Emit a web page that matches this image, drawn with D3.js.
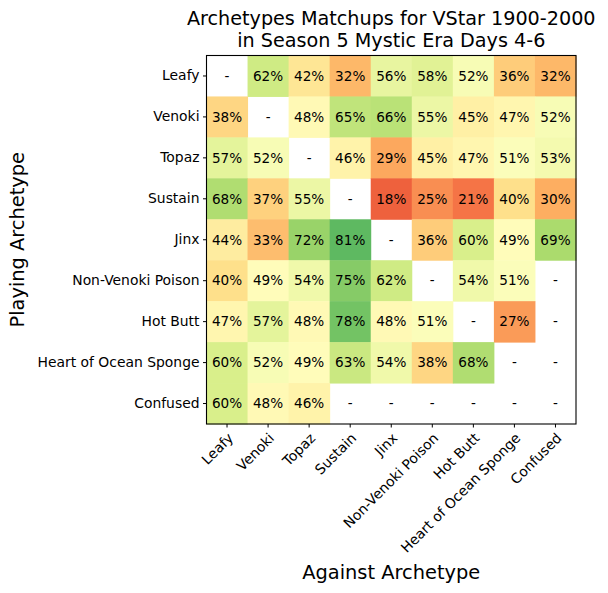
<!DOCTYPE html>
<html lang="en">
<head>
<meta charset="UTF-8">
<title>Archetypes Matchups</title>
<script src="https://d3js.org/d3.v7.min.js"></script>
<style>
    body { margin: 0; background: #fff; font-family: "DejaVu Sans", sans-serif; }
    svg text { fill: #000; }
</style>
</head>
<body>
<div id="chart"></div>
<script>
    // Archetypes (rows = playing, columns = against)
    const playing = ["Leafy", "Venoki", "Topaz", "Sustain", "Jinx", "Non-Venoki Poison", "Hot Butt", "Heart of Ocean Sponge", "Confused"];
    const against = ["Leafy", "Venoki", "Topaz", "Sustain", "Jinx", "Non-Venoki Poison", "Hot Butt", "Heart of Ocean Sponge", "Confused"];

    // win rates in %, null = no data ("-")
    const leafy   = [null, 62, 42, 32, 56, 58, 52, 36, 32];
    const venoki  = [38, null, 48, 65, 66, 55, 45, 47, 52];
    const topaz   = [57, 52, null, 46, 29, 45, 47, 51, 53];
    const sustain = [68, 37, 55, null, 18, 25, 21, 40, 30];
    const jinx    = [44, 33, 72, 81, null, 36, 60, 49, 69];
    const poison  = [40, 49, 54, 75, 62, null, 54, 51, null];
    const hotButt = [47, 57, 48, 78, 48, 51, null, 27, null];
    const sponge  = [60, 52, 49, 63, 54, 38, 68, null, null];
    const confused = [60, 48, 46, null, null, null, null, null, null];

    const rows = [leafy, venoki, topaz, sustain, jinx, poison, hotButt, sponge, confused];

    const cells = [];
    rows.forEach((r, i) => r.forEach((v, j) => cells.push({row: playing[i], col: against[j], value: v})));

    const W = 608, H = 593;
    const margin = {top: 55.5, left: 206.5, right: 32, bottom: 169};
    const width = W - margin.left - margin.right,
          height = H - margin.top - margin.bottom;

    const svg = d3.select("#chart").append("svg")
        .attr("width", W).attr("height", H);

    const g = svg.append("g").attr("transform", `translate(${margin.left},${margin.top})`);

    const x = d3.scaleBand().domain(against).range([0, width]);
    const y = d3.scaleBand().domain(playing).range([0, height]);

    // RdYlGn, 0..100
    const rdylgn = ["#a50026", "#d73027", "#f46d43", "#fdae61", "#fee08b", "#ffffbf",
                    "#d9ef8b", "#a6d96a", "#66bd63", "#1a9850", "#006837"];
    const color = d3.scaleLinear()
        .domain(d3.range(11).map(i => i * 10))
        .range(rdylgn)
        .interpolate(d3.interpolateRgb);

    g.selectAll("rect.cell")
        .data(cells.filter(d => d.value !== null))
        .join("rect")
        .attr("class", "cell")
        .attr("x", d => x(d.col))
        .attr("y", d => y(d.row))
        .attr("width", x.bandwidth() + 0.5)
        .attr("height", y.bandwidth() + 0.5)
        .attr("fill", d => color(d.value));

    g.selectAll("text.val")
        .data(cells)
        .join("text")
        .attr("class", "val")
        .attr("x", d => x(d.col) + x.bandwidth() / 2)
        .attr("y", d => y(d.row) + y.bandwidth() / 2)
        .attr("text-anchor", "middle")
        .attr("dy", "0.35em")
        .style("font-size", "13.6px")
        .text(d => d.value === null ? "-" : d.value + "%");

    // frame
    g.append("rect")
        .attr("width", width).attr("height", height)
        .attr("fill", "none").attr("stroke", "#000").attr("stroke-width", 1.1);

    // y axis
    const yAxis = g.append("g")
        .call(d3.axisLeft(y).tickSize(3.5).tickPadding(3.5));
    yAxis.select(".domain").remove();
    yAxis.selectAll("text").style("font-size", "13.9px").style("font-family", "DejaVu Sans");
    yAxis.selectAll("line").attr("stroke", "#000");

    // x axis
    const xAxis = g.append("g")
        .attr("transform", `translate(0,${height})`)
        .call(d3.axisBottom(x).tickSize(3.5).tickPadding(3.5));
    xAxis.select(".domain").remove();
    xAxis.selectAll("line").attr("stroke", "#000");
    xAxis.selectAll("text")
        .style("font-size", "13.9px").style("font-family", "DejaVu Sans")
        .attr("text-anchor", "end")
        .attr("x", 0).attr("y", 0).attr("dy", null)
        .attr("transform", "translate(7,15) rotate(-45)");

    // title
    const title = svg.append("text")
        .attr("x", margin.left + width / 2)
        .attr("text-anchor", "middle")
        .style("font-size", "19.2px");
    title.append("tspan").attr("x", margin.left + width / 2).attr("y", 25).text("Archetypes Matchups for VStar 1900-2000");
    title.append("tspan").attr("x", margin.left + width / 2).attr("y", 47).text("in Season 5 Mystic Era Days 4-6");

    // axis labels
    svg.append("text")
        .attr("x", margin.left + width / 2)
        .attr("y", 579)
        .attr("text-anchor", "middle")
        .style("font-size", "19.4px")
        .text("Against Archetype");

    svg.append("text")
        .attr("transform", `translate(24,${margin.top + height / 2}) rotate(-90)`)
        .attr("text-anchor", "middle")
        .style("font-size", "19.4px")
        .text("Playing Archetype");
</script>
</body>
</html>
